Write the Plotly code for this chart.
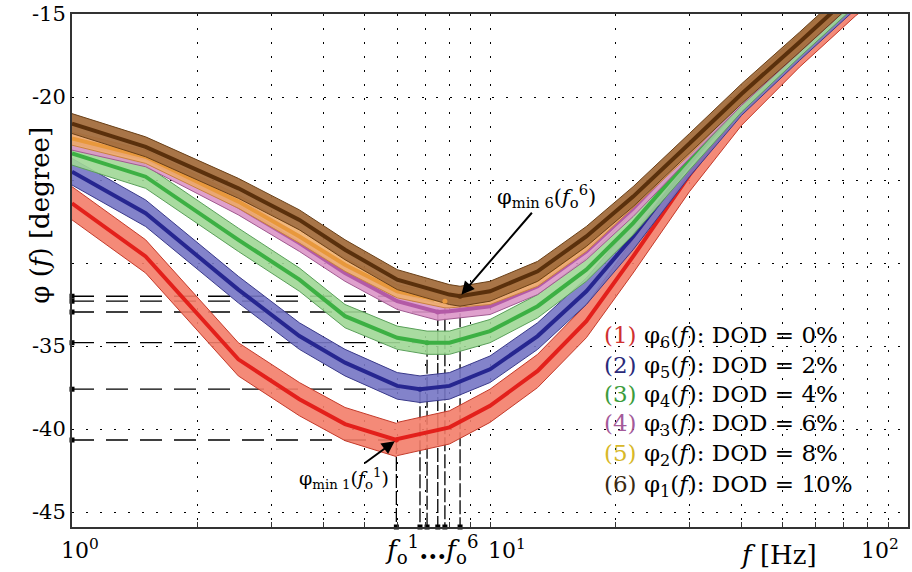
import math
import plotly.graph_objects as go

# ---------------- data ----------------
freq = [1, 1.5, 2.5, 3.5, 4.5, 6, 8, 10, 13, 17, 22, 30, 40, 55, 75, 100]

phi_dod0 = [-26.4, -29.6, -35.8, -38.2, -39.7, -40.6, -39.9, -38.6, -36.5, -33.5, -29.6, -24.7, -20.7, -17.2, -14.1, -11.7]
phi_dod2 = [-24.5, -27.0, -31.6, -34.4, -36.0, -37.4, -37.4, -36.4, -34.4, -31.7, -28.4, -24.0, -20.3, -17.0, -13.9, -11.5]
phi_dod4 = [-23.4, -24.8, -28.6, -31.0, -33.2, -34.5, -34.8, -34.1, -32.6, -30.4, -27.6, -23.7, -20.2, -16.9, -13.8, -11.4]
phi_dod6 = [-22.7, -23.7, -26.6, -28.8, -30.6, -32.3, -32.9, -32.6, -31.4, -29.3, -26.7, -23.2, -20.0, -16.8, -13.7, -11.3]
phi_dod8 = [-22.5, -23.6, -26.3, -28.4, -30.1, -31.7, -32.3, -32.1, -31.0, -28.9, -26.3, -23.1, -19.9, -16.7, -13.6, -11.2]
phi_dod10 = [-21.6, -23.0, -25.5, -27.4, -29.2, -31.0, -31.9, -31.7, -30.5, -28.4, -26.0, -22.8, -19.8, -16.7, -13.6, -11.2]

series = [phi_dod0, phi_dod2, phi_dod4, phi_dod6, phi_dod8, phi_dod10]
band_half = [1.0, 0.8, 0.7, 0.5, 0.4, 0.6]

f_min = [5.97, 6.8, 7.07, 7.5, 7.8, 8.48]
phi_min = [-40.66, -37.6, -34.8, -32.95, -32.3, -32.0]

dod = [0, 2, 4, 6, 8, 10]
phi_index = [6, 5, 4, 3, 2, 1]

line_colors = ["#e3201b", "#262690", "#3cb043", "#b35aa6", "#e8983c", "#5a300c"]
band_colors = ["rgba(243,125,105,0.90)", "rgba(118,118,196,0.90)", "rgba(160,215,150,0.90)",
               "rgba(220,150,200,0.90)", "rgba(240,175,110,0.90)", "rgba(163,110,62,0.95)"]
edge_colors = ["#c43a2a", "#3a3a8a", "#5aa05a", "#a05a90", "#c88040", "#6a4018"]
label_colors = ["#d03030", "#2a2a7a", "#3c9c3c", "#a45a9a", "#d8b828", "#3a2a12"]

y_bottom = -45.9
y_top = -15
x_tick_vals = [1, 2, 3, 4, 5, 6, 7, 8, 9, 10, 20, 30, 40, 50, 60, 70, 80, 90, 100]
y_tick_vals = [-45, -40, -35, -30, -25, -20, -15]
y_tick_text = ["-45", "-40", "-35", "", "", "-20", "-15"]

FONT = "DejaVu Serif"

fig = go.Figure()

# ---------------- helper lines for minima (drawn underneath) ----------------
for i in range(6):
    fig.add_trace(go.Scatter(
        x=[1, f_min[i]], y=[phi_min[i], phi_min[i]], mode="lines",
        line=dict(color="black", width=1.3, dash="22px,12px"),
        hoverinfo="skip", showlegend=False))
    fig.add_trace(go.Scatter(
        x=[f_min[i], f_min[i]], y=[phi_min[i], y_bottom], mode="lines",
        line=dict(color="black", width=1.3, dash="14px,3px"),
        hoverinfo="skip", showlegend=False))

# ---------------- bands and centre lines ----------------
for i, vals in enumerate(series):
    pts = sorted(list(zip(freq, vals)) + [(f_min[i], phi_min[i])])
    xs = [p[0] for p in pts]
    ys = [p[1] for p in pts]
    up = [v + band_half[i] for v in ys]
    lo = [v - band_half[i] for v in ys]
    fig.add_trace(go.Scatter(
        x=xs + xs[::-1], y=up + lo[::-1], mode="lines", fill="toself",
        fillcolor=band_colors[i], line=dict(color=edge_colors[i], width=1),
        hoverinfo="skip", showlegend=False))
    fig.add_trace(go.Scatter(
        x=xs, y=ys, mode="lines", line=dict(color=line_colors[i], width=4),
        showlegend=False))

# minimum markers
fig.add_trace(go.Scatter(
    x=f_min, y=phi_min, mode="markers",
    marker=dict(color=line_colors, size=5), showlegend=False))
# axis markers
fig.add_trace(go.Scatter(
    x=[1] * 6, y=phi_min, mode="markers", cliponaxis=False,
    marker=dict(color="black", size=5, symbol="square"), showlegend=False))
fig.add_trace(go.Scatter(
    x=f_min, y=[y_bottom] * 6, mode="markers", cliponaxis=False,
    marker=dict(color="black", size=5, symbol="square"), showlegend=False))

# ---------------- annotations ----------------
ann = []
# legend block
legend_y = [337, 367, 396, 425, 455, 486]
for i in range(6):
    ann.append(dict(
        xref="paper", yref="paper", x=(603 - 72) / 838, y=(527 - legend_y[i]) / 514,
        xanchor="left", yanchor="middle", showarrow=False,
        text=f'<span style="color:{label_colors[i]}">({i + 1})</span> '
             f'φ<sub>{phi_index[i]}</sub>(<i>f</i>): DOD = {dod[i]}%',
        font=dict(family=FONT, size=23, color="black")))

# arrows
ann.append(dict(
    x=math.log10(f_min[5]), y=phi_min[5], xref="x", yref="y",
    ax=86, ay=-100, showarrow=True, arrowhead=2, arrowsize=1.3, arrowwidth=2,
    arrowcolor="black", standoff=2,
    text="φ<sub>min 6</sub>(<i>f</i><sub>o</sub><sup>6</sup>)",
    font=dict(family=FONT, size=21, color="black")))
ann.append(dict(
    x=math.log10(f_min[0]), y=phi_min[0], xref="x", yref="y",
    ax=-52, ay=38, showarrow=True, arrowhead=2, arrowsize=1.3, arrowwidth=2,
    arrowcolor="black", standoff=2,
    text="φ<sub>min 1</sub>(<i>f</i><sub>o</sub><sup>1</sup>)",
    font=dict(family=FONT, size=19, color="black")))

# x tick labels
for txt, px in [("10<sup>0</sup>", 80), ("10<sup>1</sup>", 508), ("10<sup>2</sup>", 882)]:
    ann.append(dict(xref="paper", yref="paper", x=(px - 72) / 838, y=(527 - 549) / 514,
                    xanchor="center", yanchor="middle", showarrow=False, text=txt,
                    font=dict(family=FONT, size=22, color="black")))
# f_o labels
ann.append(dict(xref="paper", yref="paper", x=(432 - 72) / 838, y=(527 - 550) / 514,
                xanchor="center", yanchor="middle", showarrow=False,
                text="<i>f</i><sub>o</sub><sup>1</sup><b>...</b><i>f</i><sub>o</sub><sup>6</sup>",
                font=dict(family=FONT, size=26, color="black")))
# x title
ann.append(dict(xref="paper", yref="paper", x=(780 - 72) / 838, y=(527 - 555) / 514,
                xanchor="center", yanchor="middle", showarrow=False,
                text="<i>f</i> [Hz]", font=dict(family=FONT, size=26, color="black")))
# y title
ann.append(dict(xref="paper", yref="paper", x=(40 - 72) / 838, y=(527 - 215) / 514,
                xanchor="center", yanchor="middle", showarrow=False, textangle=-90,
                text="φ (<i>f</i>) [degree]", font=dict(family=FONT, size=26, color="black")))

fig.update_layout(
    width=912, height=572,
    margin=dict(l=72, r=2, t=13, b=45),
    paper_bgcolor="white", plot_bgcolor="white",
    showlegend=False,
    annotations=ann,
    font=dict(family=FONT),
    xaxis=dict(type="log", range=[0, 2], tickvals=x_tick_vals, showticklabels=False,
               showgrid=True, gridcolor="black", griddash="2px,12px", gridwidth=1.4,
               showline=True, mirror=True, linecolor="#333", linewidth=2,
               ticks="inside", ticklen=5, tickcolor="#333", zeroline=False),
    yaxis=dict(range=[y_bottom, y_top], tickvals=y_tick_vals, ticktext=y_tick_text,
               showgrid=True, gridcolor="black", griddash="2px,12px", gridwidth=1.4,
               showline=True, mirror=True, linecolor="#333", linewidth=2,
               ticks="", zeroline=False,
               tickfont=dict(family=FONT, size=21, color="black")),
)

fig.write_html("out.html")
